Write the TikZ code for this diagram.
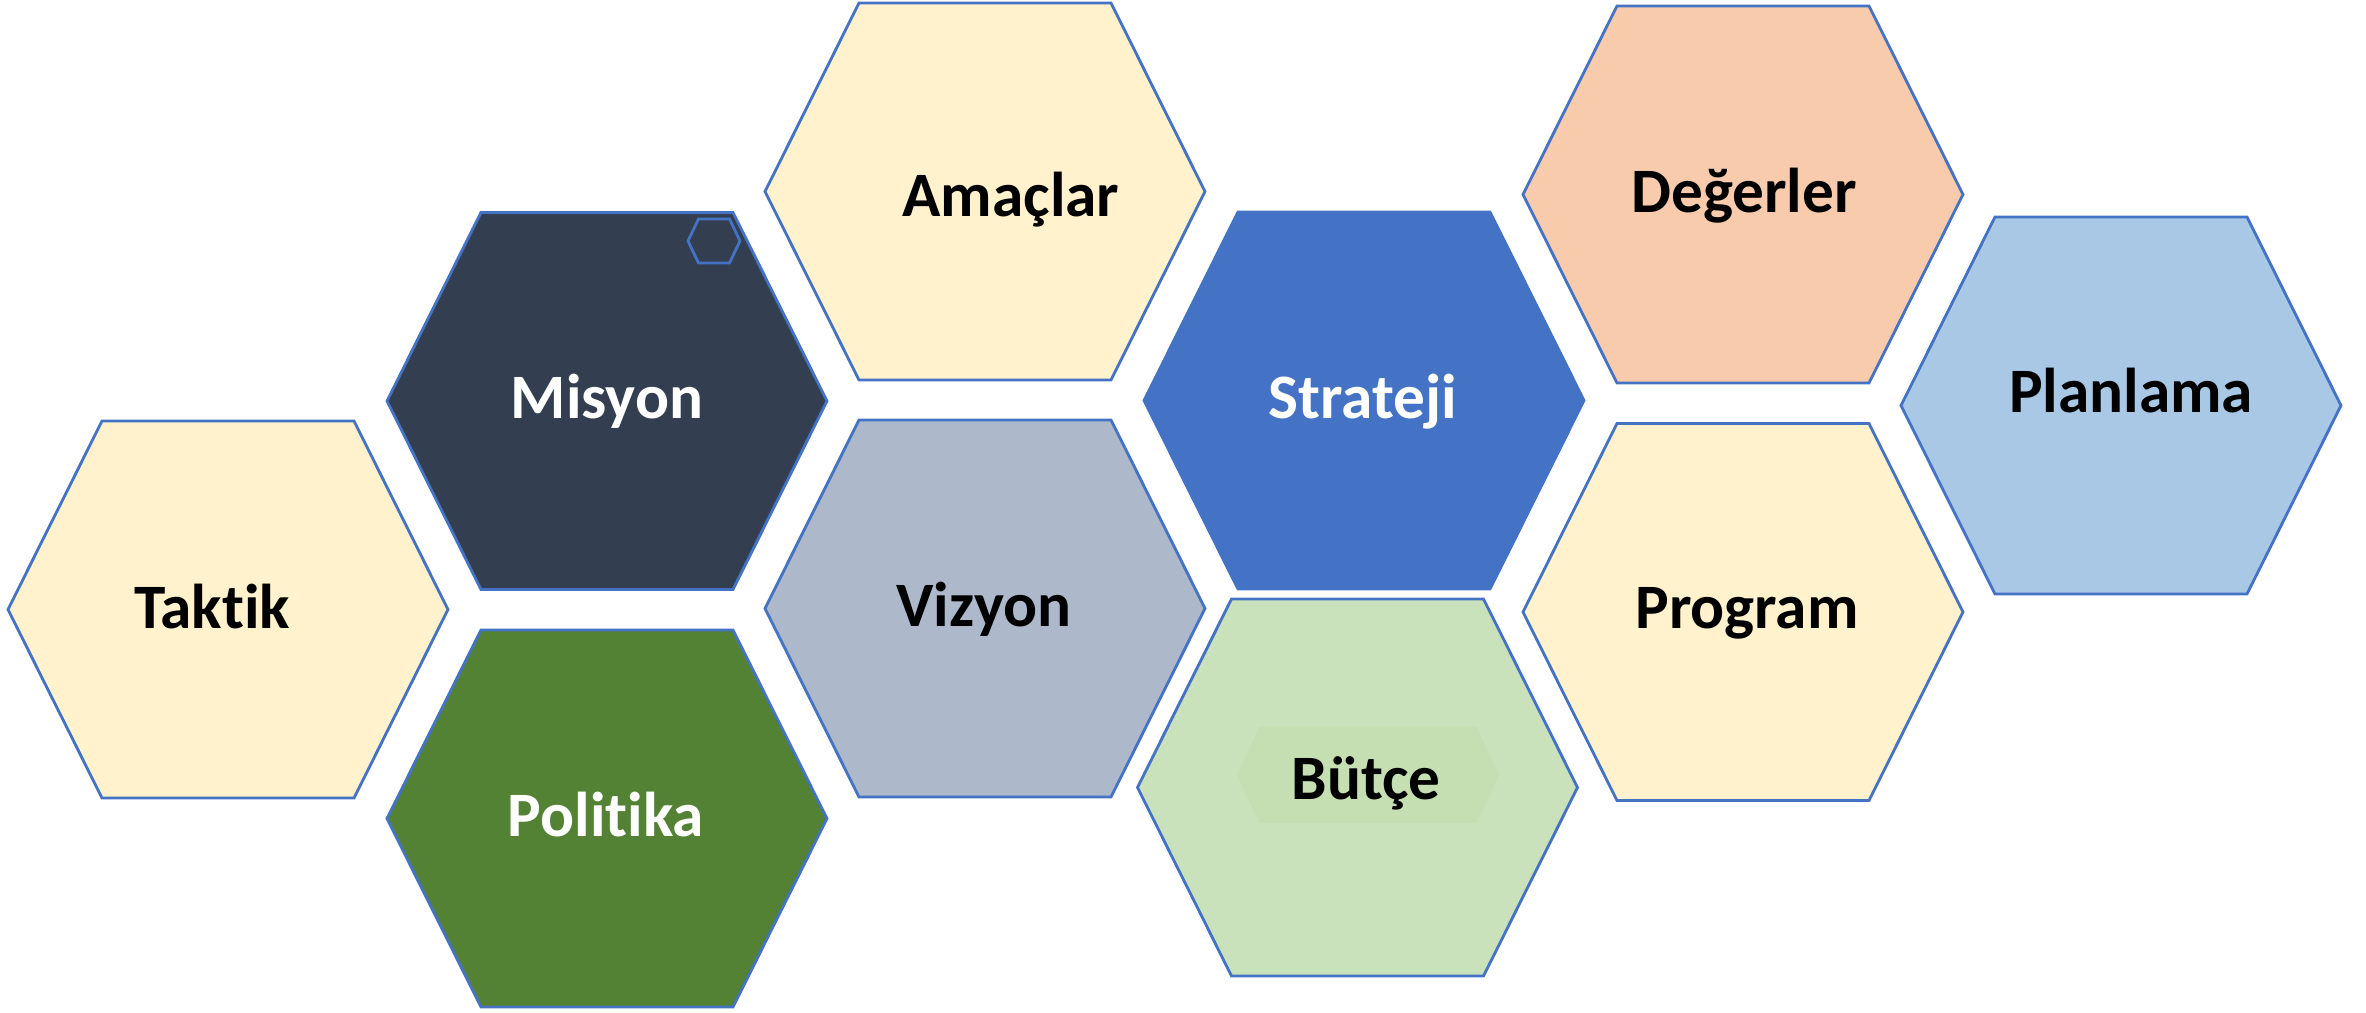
\documentclass[tikz,border=0pt]{standalone}
\usepackage{fontspec}
\setmainfont[Ligatures=NoCommon]{Carlito}
\usetikzlibrary{calc}
\definecolor{edge}{HTML}{4472C4}
\definecolor{cream}{HTML}{FFF2CC}
\definecolor{navy}{HTML}{333F50}
\definecolor{leaf}{HTML}{548235}
\definecolor{slate}{HTML}{ADB9CA}
\definecolor{royal}{HTML}{4472C4}
\definecolor{mint}{HTML}{CAE2BB}
\definecolor{mintdeep}{HTML}{C5DFB3}
\definecolor{peach}{HTML}{F8CBAD}
\definecolor{sky}{HTML}{A8C8E6}
% flat-topped hexagon: centre, half width, half height, half length of top edge
\newcommand\hexcell[5][]{%
  \path[#1] ($(#2)+(-#3,0)$) -- ++(#3-#5,-#4) -- ++(2*#5,0) -- ($(#2)+(#3,0)$)
    -- ++(-#3+#5,#4) -- ++(-2*#5,0) -- cycle;}
\tikzset{
  cell/.style={draw=edge, line width=0.8pt, line join=miter},
  lbl/.style={anchor=base, inner sep=0pt, font=\fontsize{18}{20}\selectfont\bfseries},
}
\begin{document}
\begin{tikzpicture}[x=0.01cm, y=-0.01cm]
\useasboundingbox (0,0) rectangle (2366,1013);
% honeycomb cells
\hexcell[cell, fill=cream]{228,609.5}{220}{188.5}{126}
\hexcell[cell, fill=navy]{607,401}{220}{188.5}{126}
\hexcell[cell, fill=leaf]{607,818.5}{220}{188.5}{126}
\hexcell[cell, fill=cream]{985,191.5}{220}{188.5}{126}
\hexcell[cell, fill=slate]{985,608.5}{220}{188.5}{126}
\hexcell[cell, fill=royal]{1364,400.5}{220}{188.5}{126}
\hexcell[cell, fill=mint]{1357.5,787.5}{220}{188.5}{126}
\hexcell[cell, fill=peach]{1743,194.5}{220}{188.5}{126}
\hexcell[cell, fill=cream]{1743,612}{220}{188.5}{126}
\hexcell[cell, fill=sky]{2121,405.5}{220}{188.5}{126}
% small outlined cell in the corner of Misyon
\hexcell[draw=edge, line width=0.8pt]{714,241}{26}{22}{15.5}
% soft band behind the Bütçe label
\hexcell[fill=mintdeep]{1368,775}{131}{48}{108.5}
% labels
\node[lbl] (taktik)   at (212,629)    {Taktik};
\node[lbl, white] (misyon)   at (607,419)    {Misyon};
\node[lbl, white] (politika) at (606,837)    {Politika};
\node[lbl] (amaclar)  at (1011,217)   {Amaçlar};
\node[lbl] (vizyon)   at (984,627)    {Vizyon};
\node[lbl, white] (strateji) at (1362.5,419) {Strateji};
\node[lbl] (butce)    at (1366,800)   {Bütçe};
\node[lbl] (degerler) at (1744,213)   {Değerler};
\node[lbl] (program)  at (1747,629)   {Program};
\node[lbl] (planlama) at (2131,413)   {Planlama};
\end{tikzpicture}
\end{document}
